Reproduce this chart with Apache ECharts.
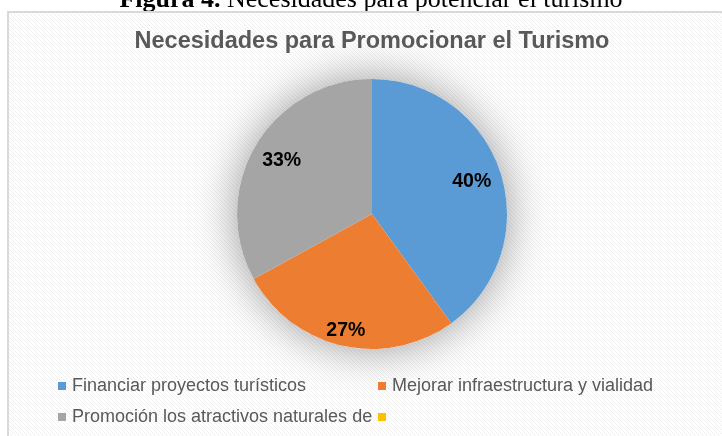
<!DOCTYPE html>
<html>
<head>
<meta charset="utf-8">
<script src="https://cdn.jsdelivr.net/npm/echarts@6/dist/echarts.min.js"></script>
<style>
html,body{margin:0;padding:0;background:#fff;}
#chart{width:722px;height:436px;}
</style>
</head>
<body>
<div id="chart"></div>
<script>
// ---- data ----
const categories = ['Financiar proyectos turísticos', 'Mejorar infraestructura y vialidad', 'Promoción los atractivos naturales de', ' '];
const values = [40, 27, 33, 0];
const colors = ['#5B9BD5', '#ED7D31', '#A5A5A5', '#FFC000'];
const chartTitle = 'Necesidades para Promocionar el Turismo';
const captionBold = 'Figura 4.';
const captionText = ' Necesidades para potenciar el turismo';

// ---- layout / style ----
const R = 135;
const CX = 372, CY = 214;
const labelRadiusRatio = [0.755, 0.865, 0.755, 0.5];

// hatch pattern
const pc = document.createElement('canvas');
pc.width = 4; pc.height = 4;
const pctx = pc.getContext('2d');
pctx.fillStyle = '#ffffff';
pctx.fillRect(0, 0, 4, 4);
pctx.strokeStyle = 'rgba(0,0,0,0.06)';
pctx.lineWidth = 1;
pctx.beginPath();
pctx.moveTo(-1, -1); pctx.lineTo(5, 5);
pctx.stroke();

const total = values.reduce((a, b) => a + b, 0);

const chart = echarts.init(document.getElementById('chart'), null, {renderer: 'canvas'});

const legends = categories.map((c, i) => ({
  data: [c],
  orient: 'horizontal',
  left: i % 2 === 0 ? 58 : 378,
  top: i < 2 ? 377 : 408,
  padding: 0,
  icon: 'rect',
  itemWidth: 8,
  itemHeight: 8,
  selectedMode: false,
  textStyle: {fontFamily: 'Liberation Sans', fontSize: 18, color: '#595959', padding: [0, 0, 0, 1]}
}));

chart.setOption({
  animation: false,
  color: colors,
  title: {
    text: chartTitle,
    left: CX,
    textAlign: 'center',
    top: 30,
    padding: 0,
    textStyle: {fontFamily: 'Liberation Sans', fontSize: 23.5, fontWeight: 'bold', color: '#595959'}
  },
  graphic: [
    {
      type: 'rect', z: -10, silent: true,
      shape: {x: 8, y: 12, width: 730, height: 440},
      style: {fill: {type: 'pattern', image: pc, repeat: 'repeat'}, stroke: '#d9d9d9', lineWidth: 2}
    },
    {
      type: 'text', z: -20, silent: true,
      x: 371, y: 13,
      style: {
        text: '{b|' + captionBold + '}' + captionText,
        fontFamily: 'Liberation Serif',
        fontSize: 26,
        fill: '#000',
        align: 'center',
        verticalAlign: 'bottom',
        rich: {b: {fontFamily: 'Liberation Serif', fontSize: 26, fontWeight: 'bold', fill: '#000'}}
      }
    }
  ],
  legend: legends,
  series: [
    {
      type: 'pie',
      name: 'glow',
      silent: true,
      z: 1,
      center: [CX, CY],
      radius: R,
      label: {show: false},
      labelLine: {show: false},
      data: [{value: 1, name: '__glow__', itemStyle: {color: '#ffffff', shadowBlur: 45, shadowColor: 'rgba(0,0,0,0.4)'}}]
    },
    {
      type: 'pie',
      z: 3,
      center: [CX, CY],
      radius: R,
      startAngle: 90,
      clockwise: true,
      itemStyle: {borderWidth: 0},
      label: {
        show: true,
        position: 'inside',
        formatter: '{d}%',
        fontFamily: 'Liberation Sans',
        fontSize: 19.5,
        fontWeight: 'bold',
        color: '#000'
      },
      labelLine: {show: false},
      emphasis: {disabled: true},
      labelLayout: function (p) {
        if (p.seriesIndex !== 1) return {};
        const i = p.dataIndex;
        let start = 0;
        for (let k = 0; k < i; k++) start += values[k];
        const mid = (start + values[i] / 2) / total * Math.PI * 2;
        const shift = (labelRadiusRatio[i] - 0.5) * R;
        return {dx: shift * Math.sin(mid), dy: -shift * Math.cos(mid)};
      },
      data: categories.map((c, i) => ({
        name: c,
        value: values[i],
        label: {show: values[i] > 0}
      }))
    }
  ]
});
</script>
</body>
</html>
